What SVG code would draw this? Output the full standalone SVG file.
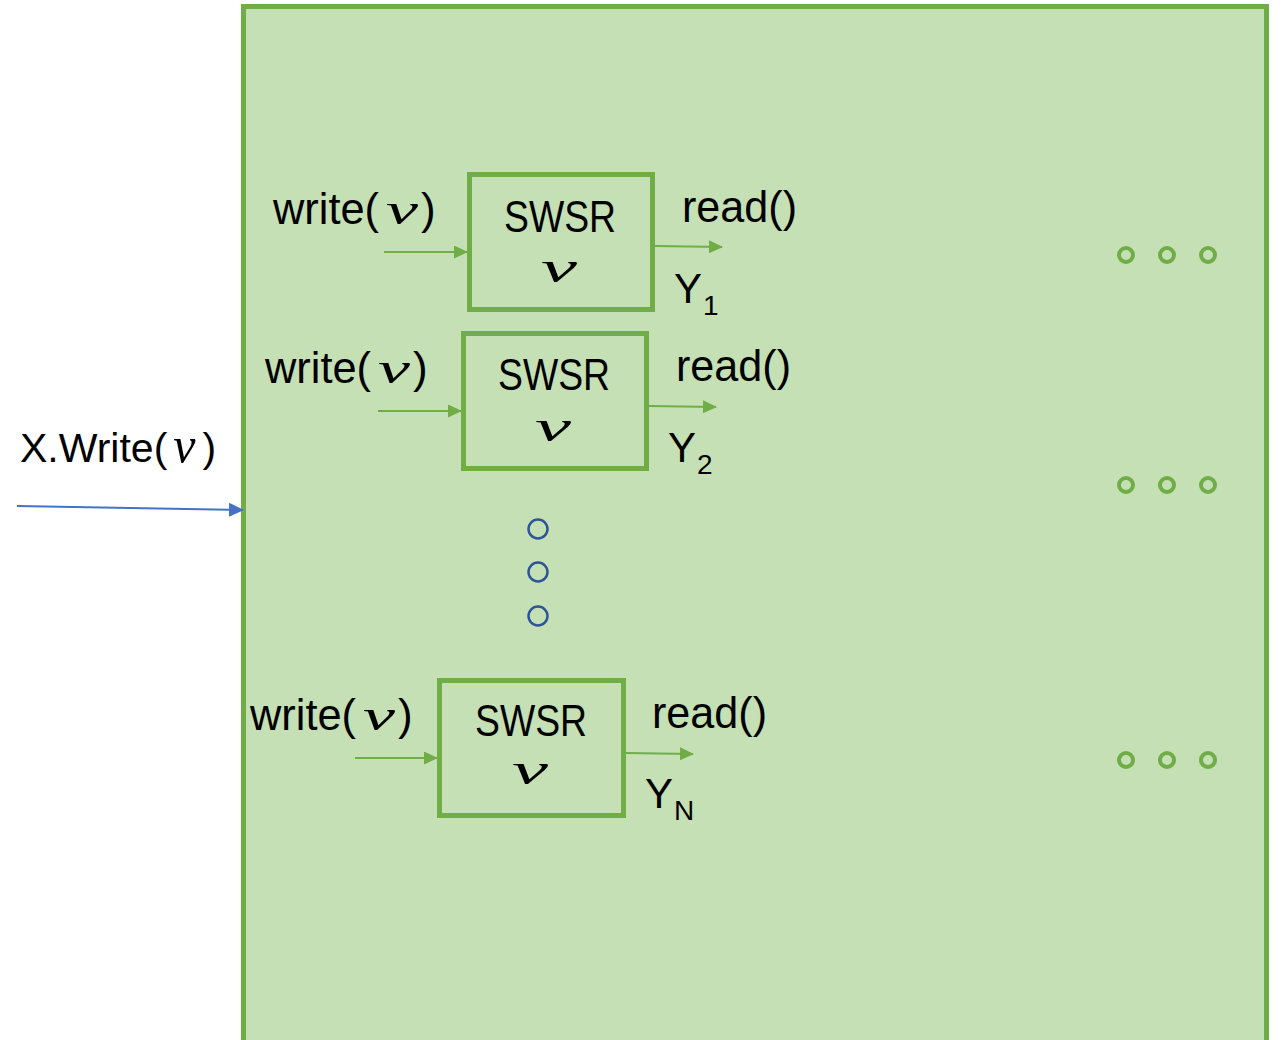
<svg xmlns="http://www.w3.org/2000/svg" width="1281" height="1040" viewBox="0 0 1281 1040">
<style>
.t{font-family:"Liberation Sans",Arial,sans-serif;font-size:44px;fill:#000}
.v{font-family:"Liberation Serif","DejaVu Serif",serif;font-style:italic;font-size:44px;fill:#000}
.y{font-family:"Liberation Sans",Arial,sans-serif;font-size:42px;fill:#000}
.sub{font-family:"Liberation Sans",Arial,sans-serif;font-size:28px;fill:#000}
.box{fill:none;stroke:#70AD47;stroke-width:5}
.g{stroke:#70AD47;stroke-width:2;fill:none}
.ring{fill:none;stroke:#70AD47;stroke-width:4}
.bring{fill:none;stroke:#2F5597;stroke-width:2.5}
</style>
<defs>
<marker id="ga" markerWidth="14" markerHeight="13" refX="13" refY="6.5" orient="auto" markerUnits="userSpaceOnUse" viewBox="0 0 14 13"><path d="M0,0 L14,6.5 L0,13 z" fill="#70AD47"/></marker>
<marker id="ba" markerWidth="15" markerHeight="14" refX="14" refY="7" orient="auto" markerUnits="userSpaceOnUse" viewBox="0 0 15 14"><path d="M0,0 L15,7 L0,14 z" fill="#4472C4"/></marker>
</defs>
<rect x="243.5" y="6.5" width="1023" height="1040" fill="#C5E0B4" stroke="#70AD47" stroke-width="5"/>
<g id="connectors">
<line x1="17" y1="506" x2="243" y2="510" stroke="#4472C4" stroke-width="2" marker-end="url(#ba)"/>
<line class="g" x1="384" y1="252" x2="467" y2="252" marker-end="url(#ga)"/>
<line class="g" x1="655" y1="246" x2="722" y2="247" marker-end="url(#ga)"/>
<line class="g" x1="378" y1="411" x2="461" y2="411" marker-end="url(#ga)"/>
<line class="g" x1="649" y1="406" x2="716" y2="407" marker-end="url(#ga)"/>
<line class="g" x1="355" y1="758" x2="437" y2="758" marker-end="url(#ga)"/>
<line class="g" x1="626" y1="753" x2="693" y2="754" marker-end="url(#ga)"/>
</g>
<g id="xwrite">
<text class="t" x="20" y="462" style="font-size:41px">X.Write(<tspan class="v" dx="6" style="font-size:50px">v</tspan><tspan dx="7">)</tspan></text>
</g>
<g id="reg1">
<rect class="box" x="469.5" y="174.5" width="183" height="135"/>
<text class="t" x="504" y="232" textLength="112" lengthAdjust="spacingAndGlyphs">SWSR</text>
<text class="v" x="541" y="282" textLength="36" lengthAdjust="spacingAndGlyphs">v</text>
<text class="t" x="273" y="224" textLength="106" lengthAdjust="spacingAndGlyphs">write(</text>
<text class="v" x="386" y="224" textLength="32" lengthAdjust="spacingAndGlyphs">v</text>
<text class="t" x="421" y="224">)</text>
<text class="t" x="682" y="222" textLength="115" lengthAdjust="spacingAndGlyphs">read()</text>
<text class="y" x="674" y="303">Y</text>
<text class="sub" x="703" y="315">1</text>
</g>
<g id="reg2">
<rect class="box" x="463.5" y="333.5" width="183" height="135"/>
<text class="t" x="498" y="390" textLength="112" lengthAdjust="spacingAndGlyphs">SWSR</text>
<text class="v" x="535" y="441" textLength="36" lengthAdjust="spacingAndGlyphs">v</text>
<text class="t" x="265" y="383" textLength="106" lengthAdjust="spacingAndGlyphs">write(</text>
<text class="v" x="378" y="383" textLength="32" lengthAdjust="spacingAndGlyphs">v</text>
<text class="t" x="413" y="383">)</text>
<text class="t" x="676" y="381" textLength="115" lengthAdjust="spacingAndGlyphs">read()</text>
<text class="y" x="668" y="462">Y</text>
<text class="sub" x="697" y="474">2</text>
</g>
<g id="regN">
<rect class="box" x="439.5" y="680.5" width="184" height="135"/>
<text class="t" x="475" y="736" textLength="112" lengthAdjust="spacingAndGlyphs">SWSR</text>
<text class="v" x="512" y="784" textLength="36" lengthAdjust="spacingAndGlyphs">v</text>
<text class="t" x="250" y="730" textLength="106" lengthAdjust="spacingAndGlyphs">write(</text>
<text class="v" x="363" y="730" textLength="32" lengthAdjust="spacingAndGlyphs">v</text>
<text class="t" x="398" y="730">)</text>
<text class="t" x="652" y="728" textLength="115" lengthAdjust="spacingAndGlyphs">read()</text>
<text class="y" x="645" y="808">Y</text>
<text class="sub" x="674" y="820">N</text>
</g>
<g id="vdots">
<circle class="bring" cx="538" cy="529" r="9.5"/>
<circle class="bring" cx="538" cy="572" r="9.5"/>
<circle class="bring" cx="538" cy="616" r="9.5"/>
</g>
<g id="hdots1">
<circle class="ring" cx="1126" cy="255" r="7"/>
<circle class="ring" cx="1167" cy="255" r="7"/>
<circle class="ring" cx="1208" cy="255" r="7"/>
</g>
<g id="hdots2">
<circle class="ring" cx="1126" cy="485" r="7"/>
<circle class="ring" cx="1167" cy="485" r="7"/>
<circle class="ring" cx="1208" cy="485" r="7"/>
</g>
<g id="hdots3">
<circle class="ring" cx="1126" cy="760" r="7"/>
<circle class="ring" cx="1167" cy="760" r="7"/>
<circle class="ring" cx="1208" cy="760" r="7"/>
</g>
</svg>
